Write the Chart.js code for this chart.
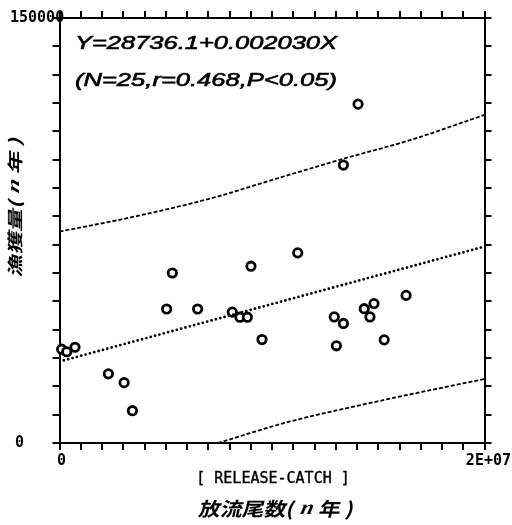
<!DOCTYPE html>
<html>
<head>
<meta charset="utf-8">
<script src="https://cdn.jsdelivr.net/npm/chart.js"></script>
<style>
  body { margin: 0; background: #fff; }
  #wrap { width: 512px; height: 525px; }
</style>
</head>
<body>
<div id="wrap"><canvas id="scatterChart" width="512" height="525"></canvas></div>
<script>
  // release count (x) against catch (y), one point per year
  const releaseCount = [
    100000, 340000, 730000, 2300000, 3040000, 3430000, 5040000, 5310000, 6500000,
    8130000, 8490000, 8840000, 9010000, 9530000, 14050000, 13360000, 11210000,
    16310000, 14800000, 14340000, 14610000, 12930000, 13360000, 15280000, 13030000
  ];
  const catchAmount = [
    33100, 32200, 33800, 24400, 21300, 11400, 47300, 60000, 47300,
    46200, 44400, 44400, 62400, 36500, 119600, 98100, 67100,
    52100, 49200, 47400, 44500, 44500, 42200, 36400, 34300
  ];

  // fitted line  Y = a + bX
  const intercept = 28736.1;
  const slope = 0.002030;
  const lineX = [0, 20000000];

  // prediction band
  const upperX = [0, 3400000, 7300000, 9900000, 13400000, 16500000, 20000000];
  const upperY = [74600, 79700, 86700, 92600, 100400, 106900, 115800];
  const lowerX = [7450000, 10850000, 14000000, 17100000, 20000000];
  const lowerY = [0, 7600, 13100, 18100, 22600];

  const xTickLabels = ['0', '2E+07'];
  const yTickLabels = ['0', '150000'];

  const toPoints = (xs, ys) => xs.map((x, i) => ({ x: x, y: ys[i] }));

  // text outside the plot: tick labels, titles and the fit equation
  const labelsPlugin = {
    id: 'labels',
    afterDraw(chart) {
      const ctx = chart.ctx;
      const xs = chart.scales.x, ys = chart.scales.y;
      ctx.save();
      ctx.fillStyle = '#000';
      ctx.strokeStyle = '#000';

      ctx.font = 'bold 15px "DejaVu Sans Mono"';
      ctx.textBaseline = 'middle';
      ctx.textAlign = 'left';
      ctx.fillText(yTickLabels[0], 15, ys.getPixelForValue(0));
      ctx.fillText(yTickLabels[1], 10, ys.getPixelForValue(150000));
      ctx.textAlign = 'center';
      ctx.fillText(xTickLabels[0], xs.getPixelForValue(0) + 2, 461);
      ctx.textAlign = 'right';
      ctx.fillText(xTickLabels[1], 511, 461);

      ctx.textAlign = 'center';
      ctx.font = '15px "DejaVu Sans Mono"';
      ctx.lineWidth = 0.4;
      ctx.fillText('[ RELEASE-CATCH ]', 273, 479);
      ctx.strokeText('[ RELEASE-CATCH ]', 273, 479);

      drawSlanted(ctx, [
        ['放流尾数(', 'bold 19px "Noto Sans CJK JP"'],
        [' n ', 'italic bold 20px "Liberation Serif"'],
        ['年 )', 'bold 19px "Noto Sans CJK JP"']
      ], 277, 509, 0, 155);

      drawSlanted(ctx, [
        ['漁獲量(', 'bold 16px "Noto Sans CJK JP"'],
        [' n ', 'italic bold 17px "Liberation Serif"'],
        ['年 )', 'bold 16px "Noto Sans CJK JP"']
      ], 15, 206, -Math.PI / 2, 140);

      // fit equation, stretched wide like the plotter font
      ctx.font = 'italic 18px "Liberation Sans"';
      ctx.textAlign = 'left';
      ctx.textBaseline = 'alphabetic';
      ctx.lineWidth = 0.6;
      drawStretched(ctx, 'Y=28736.1+0.002030X', 75, 49, 262);
      drawStretched(ctx, '(N=25,r=0.468,P<0.05)', 75, 86, 262);
      ctx.restore();
    }
  };

  function drawStretched(ctx, text, x, y, width) {
    const w = ctx.measureText(text).width;
    ctx.save();
    ctx.translate(x, y);
    ctx.scale(width / w, 1);
    ctx.fillText(text, 0, 0);
    ctx.strokeText(text, 0, 0);
    ctx.restore();
  }

  function drawSlanted(ctx, parts, cx, cy, angle, width) {
    let total = 0;
    const widths = parts.map(p => { ctx.font = p[1]; const w = ctx.measureText(p[0]).width; total += w; return w; });
    ctx.save();
    ctx.translate(cx, cy);
    ctx.rotate(angle);
    ctx.scale(width / total, 1);
    ctx.transform(1, 0, -0.2, 1, 0, 0);
    ctx.textAlign = 'left';
    ctx.textBaseline = 'middle';
    let x = -total / 2;
    parts.forEach((p, i) => {
      ctx.font = p[1];
      ctx.fillText(p[0], x, 0);
      x += widths[i];
    });
    ctx.restore();
  }

  const axisGrid = {
    drawOnChartArea: false,
    color: '#000',
    lineWidth: 2,
    tickLength: 7
  };
  const axisBorder = { color: '#000', width: 2 };

  new Chart(document.getElementById('scatterChart'), {
    type: 'scatter',
    data: {
      datasets: [
        {
          label: 'upper',
          data: toPoints(upperX, upperY),
          showLine: true,
          pointRadius: 0,
          borderColor: '#000',
          borderWidth: 1.8,
          borderDash: [4, 2],
          cubicInterpolationMode: 'monotone'
        },
        {
          label: 'lower',
          data: toPoints(lowerX, lowerY),
          showLine: true,
          pointRadius: 0,
          borderColor: '#000',
          borderWidth: 1.8,
          borderDash: [4, 2],
          cubicInterpolationMode: 'monotone'
        },
        {
          label: 'fit',
          data: lineX.map(x => ({ x: x, y: intercept + slope * x })),
          showLine: true,
          pointRadius: 0,
          borderColor: '#000',
          borderWidth: 2.8,
          borderDash: [0, 4.5],
          borderCapStyle: 'round'
        },
        {
          label: 'catch',
          data: toPoints(releaseCount, catchAmount),
          pointRadius: 4.2,
          pointBorderWidth: 2.8,
          pointBorderColor: '#000',
          pointBackgroundColor: '#fff',
          clip: false
        }
      ]
    },
    options: {
      responsive: false,
      animation: false,
      devicePixelRatio: 1,
      layout: { padding: { left: 52.5, right: 20.5, top: 11, bottom: 75 } },
      plugins: { legend: { display: false }, tooltip: { enabled: false } },
      scales: {
        x: {
          type: 'linear', position: 'bottom', min: 0, max: 20000000,
          ticks: { display: false, stepSize: 1000000, autoSkip: false, maxTicksLimit: 100 },
          grid: axisGrid, border: axisBorder
        },
        x2: {
          type: 'linear', position: 'top', min: 0, max: 20000000,
          ticks: { display: false, stepSize: 1000000, autoSkip: false, maxTicksLimit: 100 },
          grid: axisGrid, border: axisBorder
        },
        y: {
          type: 'linear', position: 'left', min: 0, max: 150000,
          ticks: { display: false, stepSize: 10000, autoSkip: false, maxTicksLimit: 100 },
          grid: axisGrid, border: axisBorder
        },
        y2: {
          type: 'linear', position: 'right', min: 0, max: 150000,
          ticks: { display: false, stepSize: 10000, autoSkip: false, maxTicksLimit: 100 },
          grid: axisGrid, border: axisBorder
        }
      }
    },
    plugins: [labelsPlugin]
  });
</script>
</body>
</html>
